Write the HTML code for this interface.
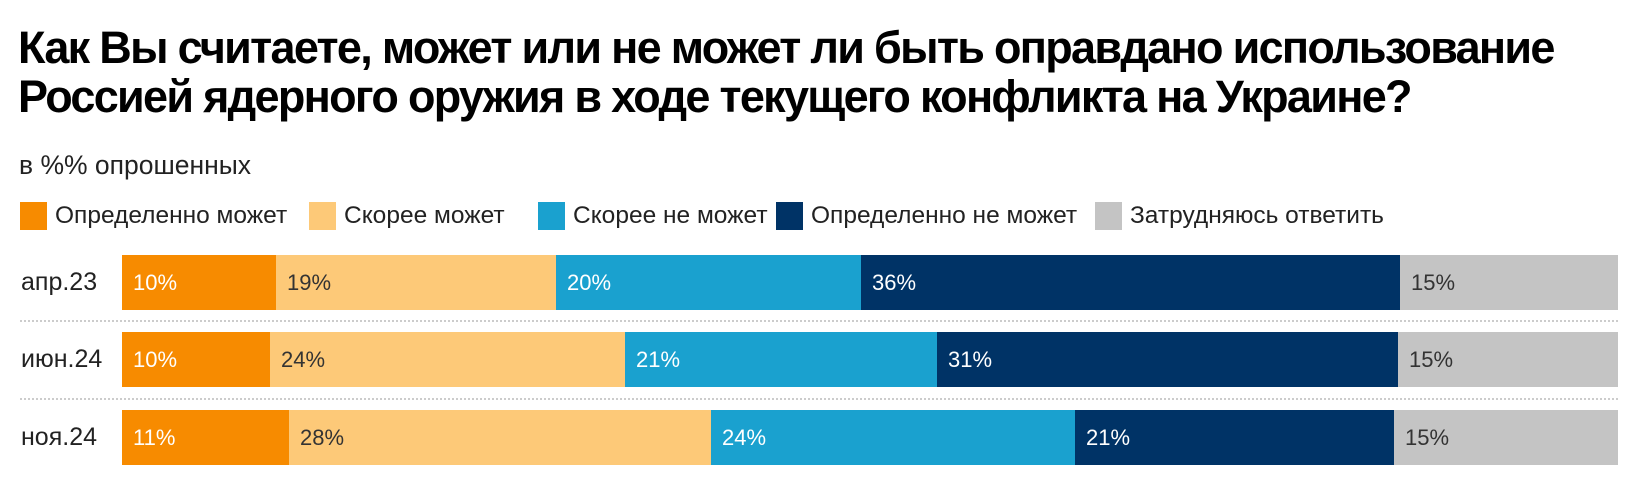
<!DOCTYPE html>
<html><head><meta charset="utf-8"><style>
body{margin:0;width:1640px;height:482px;background:#fff;font-family:"Liberation Sans",sans-serif;position:relative;overflow:hidden;color:#222}
.t{position:absolute;left:18px;top:23px;font-size:45px;font-weight:bold;line-height:49px;letter-spacing:-1.7px;color:#000;white-space:nowrap}
.s{position:absolute;left:19px;top:150px;font-size:26.5px;color:#222}
.lg{position:absolute;top:202px;height:28px;font-size:24.5px;line-height:28px;white-space:nowrap}
.lg i{display:inline-block;width:27px;height:28px;vertical-align:top;margin-right:8px}
.rl{position:absolute;left:21px;font-size:25px;line-height:55px}
.bar{position:absolute;height:55px;font-size:22px;line-height:55px;box-sizing:border-box;padding-left:11px;overflow:hidden}
.dot{position:absolute;left:20px;width:1598px;border-top:2px dotted #ccc}
</style></head><body>
<div class="t">Как Вы считаете, может или не может ли быть оправдано использование<br>Россией ядерного оружия в ходе текущего конфликта на Украине?</div>
<div class="s">в %% опрошенных</div>
<div class="lg" style="left:20px"><i style="background:#f78b00"></i>Определенно может</div>
<div class="lg" style="left:309px"><i style="background:#fdc978"></i>Скорее может</div>
<div class="lg" style="left:538px"><i style="background:#1aa1cf"></i>Скорее не может</div>
<div class="lg" style="left:776px"><i style="background:#003366"></i>Определенно не может</div>
<div class="lg" style="left:1095px"><i style="background:#c4c4c4"></i>Затрудняюсь ответить</div>

<div class="rl" style="top:255px">апр.23</div>
<div class="bar" style="top:255px;left:122px;width:154px;background:#f78b00;color:#fff">10%</div>
<div class="bar" style="top:255px;left:276px;width:280px;background:#fdc978;color:#333">19%</div>
<div class="bar" style="top:255px;left:556px;width:305px;background:#1aa1cf;color:#fff">20%</div>
<div class="bar" style="top:255px;left:861px;width:539px;background:#003366;color:#fff">36%</div>
<div class="bar" style="top:255px;left:1400px;width:218px;background:#c4c4c4;color:#333">15%</div>
<div class="dot" style="top:320px"></div>

<div class="rl" style="top:332px">июн.24</div>
<div class="bar" style="top:332px;left:122px;width:148px;background:#f78b00;color:#fff">10%</div>
<div class="bar" style="top:332px;left:270px;width:355px;background:#fdc978;color:#333">24%</div>
<div class="bar" style="top:332px;left:625px;width:312px;background:#1aa1cf;color:#fff">21%</div>
<div class="bar" style="top:332px;left:937px;width:461px;background:#003366;color:#fff">31%</div>
<div class="bar" style="top:332px;left:1398px;width:220px;background:#c4c4c4;color:#333">15%</div>
<div class="dot" style="top:398px"></div>

<div class="rl" style="top:410px">ноя.24</div>
<div class="bar" style="top:410px;left:122px;width:167px;background:#f78b00;color:#fff">11%</div>
<div class="bar" style="top:410px;left:289px;width:422px;background:#fdc978;color:#333">28%</div>
<div class="bar" style="top:410px;left:711px;width:364px;background:#1aa1cf;color:#fff">24%</div>
<div class="bar" style="top:410px;left:1075px;width:319px;background:#003366;color:#fff">21%</div>
<div class="bar" style="top:410px;left:1394px;width:224px;background:#c4c4c4;color:#333">15%</div>
</body></html>
